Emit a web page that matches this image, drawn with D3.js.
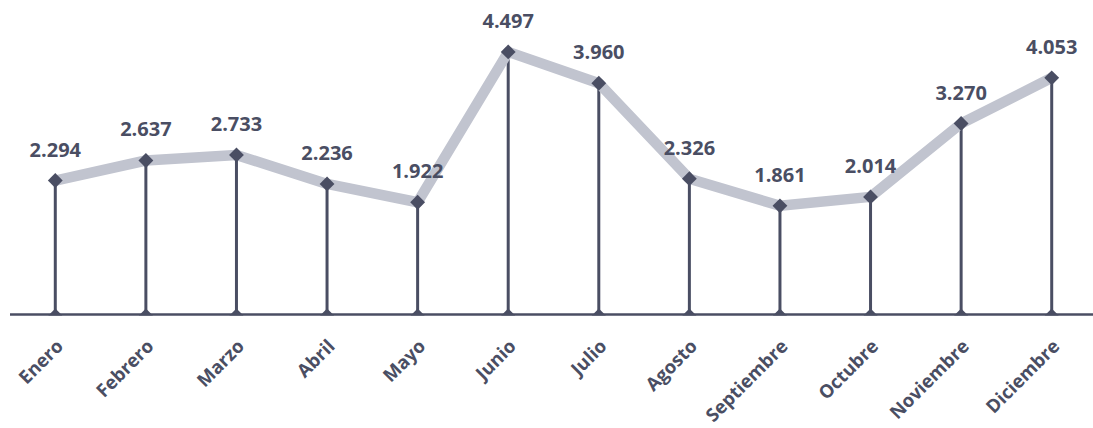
<!DOCTYPE html>
<html>
<head>
<meta charset="utf-8">
<script src="https://cdn.jsdelivr.net/npm/d3@7"></script>
<style>
  body { margin: 0; background: #fff; }
  text { font-family: "Open Sans", "Lato", sans-serif; font-weight: 700; fill: #4a4e63; }
</style>
</head>
<body>
<div id="chart-area"></div>
<script>
var months = ["Enero", "Febrero", "Marzo", "Abril", "Mayo", "Junio", "Julio",
    "Agosto", "Septiembre", "Octubre", "Noviembre", "Diciembre"];
var values = [2.294, 2.637, 2.733, 2.236, 1.922, 4.497, 3.960, 2.326, 1.861, 2.014, 3.270, 4.053];
var labels = ["2.294", "2.637", "2.733", "2.236", "1.922", "4.497", "3.960", "2.326", "1.861", "2.014", "3.270", "4.053"];

var dark = "#4a4e63";
var light = "#c1c4cf";

var svg = d3.select("#chart-area").append("svg")
    .attr("width", 1093)
    .attr("height", 428);

var x = d3.scaleBand().domain(months).range([10, 1097]);
var y = d3.scaleLinear().domain([0, 5]).range([314.5, 22.5]);
var cx = (d) => x(d) + x.bandwidth() / 2;

var data = months.map((m, i) => ({ month: m, value: values[i], label: labels[i] }));

// baseline
svg.append("line")
    .attr("x1", 10).attr("x2", 1093)
    .attr("y1", y(0)).attr("y2", y(0))
    .attr("stroke", dark).attr("stroke-width", 2.5);

// stems
svg.selectAll(".stem").data(data).enter().append("line")
    .attr("class", "stem")
    .attr("x1", (d) => cx(d.month)).attr("x2", (d) => cx(d.month))
    .attr("y1", y(0)).attr("y2", (d) => y(d.value))
    .attr("stroke", dark).attr("stroke-width", 3);

// gray line
var line = d3.line().x((d) => cx(d.month)).y((d) => y(d.value));
svg.append("path")
    .datum(data)
    .attr("d", line)
    .attr("fill", "none")
    .attr("stroke", light)
    .attr("stroke-width", 10.5)
    .attr("stroke-linejoin", "round");

var diamond = d3.symbol().type(d3.symbolDiamond2).size(140);

// top markers
svg.selectAll(".top").data(data).enter().append("path")
    .attr("class", "top")
    .attr("d", diamond)
    .attr("transform", (d) => "translate(" + cx(d.month) + "," + y(d.value) + ")")
    .attr("fill", dark);

// bottom markers (half diamond sitting on the baseline)
svg.selectAll(".bot").data(data).enter().append("path")
    .attr("class", "bot")
    .attr("d", "M-7,1L0,-6L7,1Z")
    .attr("transform", (d) => "translate(" + cx(d.month) + "," + y(0) + ")")
    .attr("fill", dark);

// value labels
svg.selectAll(".val").data(data).enter().append("text")
    .attr("class", "val")
    .attr("x", (d) => cx(d.month))
    .attr("y", (d) => y(d.value) - 24)
    .attr("text-anchor", "middle")
    .style("font-size", "20px")
    .text((d) => d.label);

// month labels
svg.selectAll(".mon").data(data).enter().append("text")
    .attr("class", "mon")
    .attr("text-anchor", "end")
    .attr("transform", (d) => "translate(" + (cx(d.month) + 9) + "," + (y(0) + 33) + ") rotate(-45)")
    .style("font-size", "18.5px")
    .text((d) => d.month);
</script>
</body>
</html>
